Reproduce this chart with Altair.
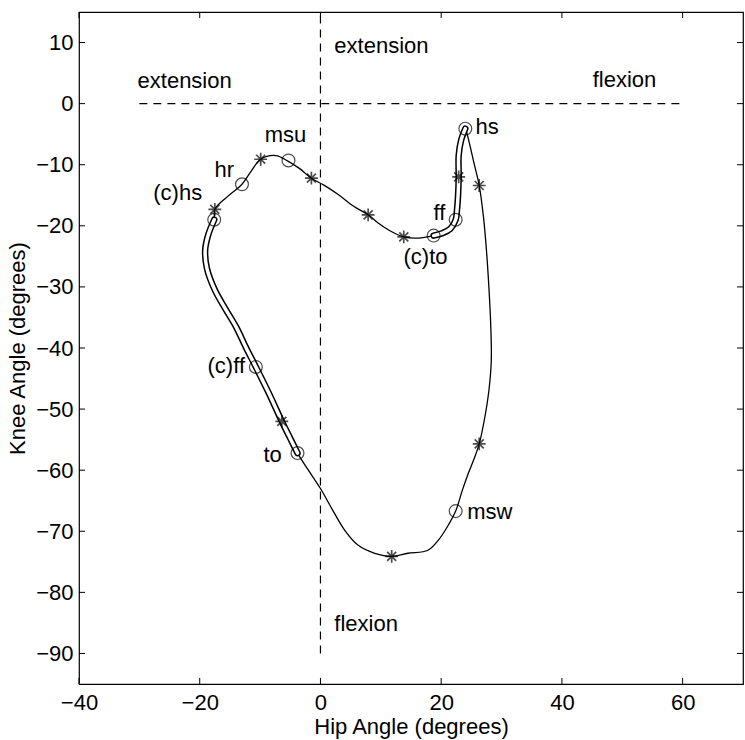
import altair as alt
import pandas as pd

# ---- axes ----
X_DOMAIN = [-40, 70]
Y_DOMAIN = [-95, 15]
X_TICKS = [-40, -20, 0, 20, 40, 60]
Y_TICKS = [-90, -80, -70, -60, -50, -40, -30, -20, -10, 0, 10]

# ---- gait loop (hip angle, knee angle) ----
# single-line path, whole cycle starting at heel strike (hs)
path_x = [24.0, 23.3, 22.9, 22.9, 22.8, 22.6, 22.4, 21.5, 20.2, 18.75,
          16.2, 13.8, 11.5, 9.5, 7.9, 5.5, 3.0, 0.5, -1.5, -3.5,
          -5.4, -7.4, -9.9, -11.5, -13.0, -15.5, -17.5, -17.6,
          -18.6, -19.1, -18.8, -17.5, -15.8, -14.0, -12.3, -10.7, -8.5, -6.4,
          -5.0, -3.8, -2.0, 0.0, 2.0, 4.0, 6.25, 9.0, 11.8, 14.5,
          17.8, 19.5, 21.0, 22.4, 23.5, 24.5, 25.5, 26.3, 27.2, 27.9,
          28.3, 28.2, 27.9, 27.5, 27.0, 26.3, 25.5, 24.8, 24.3, 24.0]
path_y = [-4.1, -6.0, -8.5, -12.0, -15.0, -17.6, -19.0, -20.5, -21.2, -21.6,
          -22.0, -21.8, -20.8, -19.5, -18.2, -16.8, -14.9, -13.3, -12.2, -10.6,
          -9.4, -8.5, -9.1, -11.1, -13.2, -15.3, -17.3, -19.0,
          -21.5, -24.0, -27.0, -30.5, -33.5, -36.5, -40.0, -43.1, -47.5, -52.0,
          -54.8, -57.2, -60.0, -63.0, -66.5, -69.8, -72.3, -73.6, -74.1, -73.6,
          -73.1, -71.5, -69.3, -66.7, -63.3, -60.5, -58.0, -55.7, -51.5, -47.0,
          -42.0, -36.0, -30.0, -24.0, -18.5, -13.4, -10.0, -7.0, -5.0, -4.1]

# double-line (double support) segments
dsA_x = [24.0, 23.3, 22.9, 22.9, 22.8, 22.6, 22.4, 21.5, 20.2, 18.75]
dsA_y = [-4.1, -6.0, -8.5, -12.0, -15.0, -17.6, -19.0, -20.5, -21.2, -21.6]
dsB_x = [-17.6, -18.6, -19.1, -18.8, -17.5, -15.8, -14.0, -12.3, -10.7, -8.5, -6.4, -5.0, -3.8]
dsB_y = [-19.0, -21.5, -24.0, -27.0, -30.5, -33.5, -36.5, -40.0, -43.1, -47.5, -52.0, -54.8, -57.2]

# event markers
circle_x = [24.0, 22.4, 18.75, -5.3, -13.0, -17.6, -10.7, -3.8, 22.4]
circle_y = [-4.1, -19.0, -21.6, -9.3, -13.2, -19.0, -43.1, -57.2, -66.7]
star_x = [26.3, 22.9, 13.8, 7.9, -1.5, -9.9, -17.5, -6.4, 11.8, 26.3]
star_y = [-13.4, -12.0, -21.8, -18.2, -12.2, -9.1, -17.3, -52.0, -74.1, -55.7]

# annotations
left_text = ["extension", "extension", "flexion", "flexion", "hs", "msw"]
left_x = [-30.3, 2.3, 45.1, 2.3, 25.7, 24.3]
left_y = [3.7, 9.5, 3.8, -85.1, -3.8, -66.9]
center_text = ["msu", "(c)to"]
center_x = [-5.8, 17.4]
center_y = [-5.2, -25.1]
right_text = ["hr", "(c)hs", "ff", "(c)ff", "to"]
right_x = [-14.3, -19.6, 20.7, -12.5, -6.4]
right_y = [-10.8, -14.6, -17.9, -43.0, -57.5]

FONT = "Liberation Sans"
FS = 22
TL = 1.0  # inward tick length in data units

xs = alt.Scale(domain=X_DOMAIN, nice=False, zero=False)
ys = alt.Scale(domain=Y_DOMAIN, nice=False, zero=False)

x_axis = alt.Axis(values=X_TICKS, title="Hip Angle (degrees)", grid=False, domain=False,
                  ticks=False, labelPadding=8, titlePadding=3, labelFlush=False)
y_axis = alt.Axis(values=Y_TICKS, title="Knee Angle (degrees)", grid=False, domain=False,
                  ticks=False, labelPadding=6, titlePadding=6, labelFlush=False)


def X():
    return alt.X("x:Q", scale=xs, axis=x_axis)


def Y():
    return alt.Y("y:Q", scale=ys, axis=y_axis)


path_df = pd.DataFrame({"x": path_x, "y": path_y, "o": range(len(path_x))})
dsA = pd.DataFrame({"x": dsA_x, "y": dsA_y, "o": range(len(dsA_x))})
dsB = pd.DataFrame({"x": dsB_x, "y": dsB_y, "o": range(len(dsB_x))})
circ_df = pd.DataFrame({"x": circle_x, "y": circle_y})
star_df = pd.DataFrame({"x": star_x, "y": star_y})

base_line = alt.Chart(path_df).mark_line(color="black", strokeWidth=1.3, interpolate="catmull-rom").encode(
    x=X(), y=Y(), order="o:Q")


def hollow(df, width, color):
    return alt.Chart(df).mark_line(color=color, strokeWidth=width, interpolate="catmull-rom",
                                   strokeCap="round").encode(x=X(), y=Y(), order="o:Q")


layers = [base_line,
          hollow(dsA, 6.5, "black"), hollow(dsA, 3.5, "white"),
          hollow(dsB, 6.5, "black"), hollow(dsB, 3.5, "white")]

# dashed reference lines
hdash = alt.Chart(pd.DataFrame({"x": [-30], "x2": [60], "y": [0]})).mark_rule(
    color="black", strokeWidth=1.2, strokeDash=[8, 6]).encode(x=X(), x2="x2:Q", y=Y())
vdash = alt.Chart(pd.DataFrame({"x": [0], "y": [-90], "y2": [15]})).mark_rule(
    color="black", strokeWidth=1.2, strokeDash=[8, 6]).encode(x=X(), y=Y(), y2="y2:Q")
layers += [hdash, vdash]

# markers
circles = alt.Chart(circ_df).mark_point(shape="circle", filled=False, color="black", size=165,
                                        strokeWidth=1.2).encode(x=X(), y=Y())
STAR = "M-1,0L1,0M0,-1L0,1M-0.7,-0.7L0.7,0.7M-0.7,0.7L0.7,-0.7"
stars = alt.Chart(star_df).mark_point(shape=STAR, filled=False, color="black", size=165,
                                      strokeWidth=1.7).encode(x=X(), y=Y())
layers += [circles, stars]

# annotations
for txt, tx, ty, al in [(left_text, left_x, left_y, "left"),
                        (center_text, center_x, center_y, "center"),
                        (right_text, right_x, right_y, "right")]:
    d = pd.DataFrame({"t": txt, "x": tx, "y": ty})
    layers.append(alt.Chart(d).mark_text(align=al, baseline="middle", font=FONT, fontSize=FS,
                                         color="black").encode(x=X(), y=Y(), text="t:N"))

# inward ticks on all four sides
bt = pd.DataFrame({"x": X_TICKS, "y": [Y_DOMAIN[0]] * len(X_TICKS), "y2": [Y_DOMAIN[0] + TL] * len(X_TICKS)})
tt = pd.DataFrame({"x": X_TICKS, "y": [Y_DOMAIN[1]] * len(X_TICKS), "y2": [Y_DOMAIN[1] - TL] * len(X_TICKS)})
lt = pd.DataFrame({"y": Y_TICKS, "x": [X_DOMAIN[0]] * len(Y_TICKS), "x2": [X_DOMAIN[0] + TL] * len(Y_TICKS)})
rt = pd.DataFrame({"y": Y_TICKS, "x": [X_DOMAIN[1]] * len(Y_TICKS), "x2": [X_DOMAIN[1] - TL] * len(Y_TICKS)})
for d in (bt, tt):
    layers.append(alt.Chart(d).mark_rule(color="black", strokeWidth=1).encode(x=X(), y=Y(), y2="y2:Q"))
for d in (lt, rt):
    layers.append(alt.Chart(d).mark_rule(color="black", strokeWidth=1).encode(x=X(), x2="x2:Q", y=Y()))

chart = alt.layer(*layers).properties(
    width=664, height=672,
    autosize=alt.AutoSizeParams(type="none"),
    padding={"left": 79, "top": 12, "right": 2, "bottom": 56},
    background="white",
).configure_view(stroke="black", strokeWidth=1.2).configure_axis(
    labelFont=FONT, titleFont=FONT, labelFontSize=FS, titleFontSize=FS,
    labelColor="black", titleColor="black", titleFontWeight="normal",
)

chart.save("out.html", embed_options={"renderer": "svg", "actions": False})
